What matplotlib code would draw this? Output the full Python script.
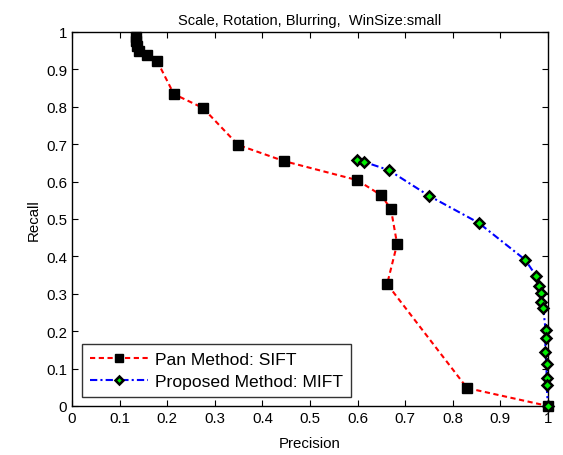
import matplotlib
matplotlib.use("Agg")
import matplotlib.pyplot as plt
import numpy as np

plt.rcParams['font.family'] = ['Liberation Sans', 'DejaVu Sans']

sift_precision = [0.134, 0.135, 0.137, 0.141, 0.158, 0.179, 0.214, 0.275, 0.349, 0.445,
                  0.599, 0.649, 0.670, 0.683, 0.662, 0.830, 1.0]
sift_recall = [0.987, 0.975, 0.963, 0.949, 0.939, 0.922, 0.834, 0.797, 0.698, 0.655,
               0.604, 0.564, 0.527, 0.433, 0.326, 0.048, 0.0]

mift_precision = [0.598, 0.613, 0.665, 0.750, 0.854, 0.952, 0.975, 0.982, 0.985, 0.985,
                  0.990, 0.995, 0.995, 0.994, 0.997, 0.997, 0.997, 1.0]
mift_recall = [0.659, 0.653, 0.631, 0.562, 0.490, 0.391, 0.348, 0.322, 0.302, 0.277,
               0.261, 0.203, 0.182, 0.144, 0.112, 0.076, 0.056, 0.0]

ticks = [0, 0.1, 0.2, 0.3, 0.4, 0.5, 0.6, 0.7, 0.8, 0.9, 1]
tick_labels = ["0", "0.1", "0.2", "0.3", "0.4", "0.5", "0.6", "0.7", "0.8", "0.9", "1"]

fig = plt.figure(figsize=(5.63, 4.56), dpi=100)
ax = fig.add_axes([72/563, 1-407/456, (548-72)/563, (407-33)/456])

ax.plot(sift_precision, sift_recall, color='red', linestyle=(0, (2.5, 1.7)), linewidth=1.5,
        marker='s', markersize=7.5, markerfacecolor='black', markeredgecolor='black',
        label='Pan Method: SIFT', clip_on=False, zorder=3)
ax.plot(mift_precision, mift_recall, color='blue', linestyle=(0, (3.5, 1.5, 1, 1.5)), linewidth=1.5,
        marker='D', markersize=5, markerfacecolor='#00ee00', markeredgecolor='black',
        markeredgewidth=1.8, label='Proposed Method: MIFT', clip_on=False, zorder=4)

ax.set_xlim(0, 1)
ax.set_ylim(0, 1)
ax.set_xticks(ticks)
ax.set_xticklabels(tick_labels)
ax.set_yticks(ticks)
ax.set_yticklabels(tick_labels)
ax.tick_params(direction='in', top=True, right=True, labelsize=10.8, length=4, width=0.8)
for s in ax.spines.values():
    s.set_linewidth(1.0)

ax.set_xlabel('Precision', fontsize=10.8, labelpad=8)
ax.set_ylabel('Recall', fontsize=10.8, labelpad=4)
ax.set_title('Scale, Rotation, Blurring,  WinSize:small', fontsize=10.5, pad=6)

leg = ax.legend(loc='lower left', bbox_to_anchor=(10/476, 9/374), fontsize=12.6, frameon=True,
                fancybox=False, edgecolor='black', handlelength=3.3, borderpad=0.45,
                labelspacing=0.4, handletextpad=0.4, borderaxespad=0, markerscale=0.85)
leg.get_frame().set_linewidth(1.0)

fig.savefig('out.png', dpi=100)
